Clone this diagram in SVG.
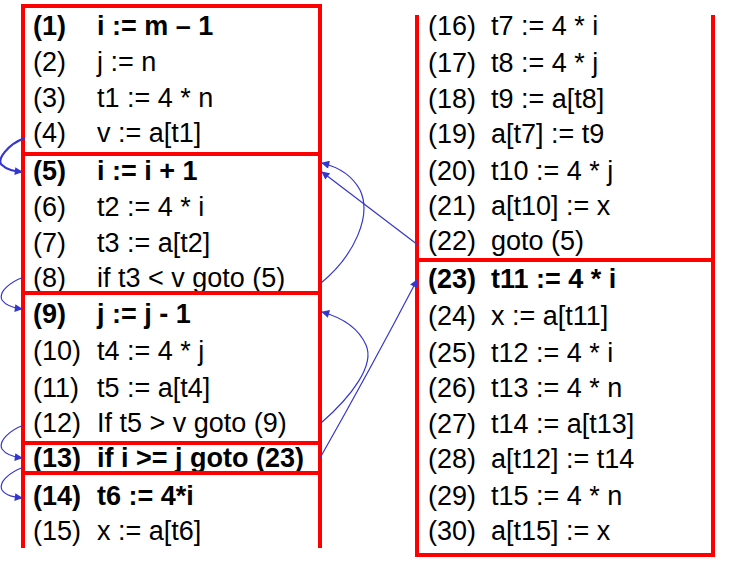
<svg xmlns="http://www.w3.org/2000/svg" width="730" height="567" viewBox="0 0 730 567">
<defs>
<style>
.b{fill:none;stroke:#ff0000;stroke-width:4}
text{font-family:"Liberation Sans",Arial,sans-serif;font-size:27px;fill:#000}
.bd{font-weight:bold}
.c{fill:none;stroke:#3535cf;stroke-width:1.2}
.c2{fill:none;stroke:#3535cf;stroke-width:2.2}
</style>
<marker id="ah" viewBox="0 0 10 10" refX="9" refY="5" markerWidth="9" markerHeight="8" markerUnits="userSpaceOnUse" orient="auto">
<path d="M0,0 L10,5 L0,10 Z" fill="#3535cf"/>
</marker>
</defs>
<rect width="730" height="567" fill="#fff"/>

<g id="b1">
<rect class="b" x="23" y="6" width="297" height="148"/>
<text class="bd" x="33" y="35">(1)</text><text class="bd" x="97" y="35">i := m – 1</text>
<text x="33" y="71">(2)</text><text x="97" y="71">j := n</text>
<text x="33" y="107">(3)</text><text x="97" y="107">t1 := 4 * n</text>
<text x="33" y="142">(4)</text><text x="97" y="142">v := a[t1]</text>
</g>
<g id="b2">
<rect class="b" x="23" y="154" width="297" height="139"/>
<text class="bd" x="33" y="180">(5)</text><text class="bd" x="97" y="180">i := i + 1</text>
<text x="33" y="216">(6)</text><text x="97" y="216">t2 := 4 * i</text>
<text x="33" y="252">(7)</text><text x="97" y="252">t3 := a[t2]</text>
<text x="33" y="287">(8)</text><text x="97" y="287">if t3 &lt; v goto (5)</text>
</g>
<g id="b3">
<rect class="b" x="23" y="293" width="297" height="150"/>
<text class="bd" x="33" y="323">(9)</text><text class="bd" x="97" y="323">j := j - 1</text>
<text x="33" y="360">(10)</text><text x="97" y="360">t4 := 4 * j</text>
<text x="33" y="397">(11)</text><text x="97" y="397">t5 := a[t4]</text>
<text x="33" y="432">(12)</text><text x="97" y="432">If t5 &gt; v goto (9)</text>
</g>
<g id="b4">
<rect class="b" x="23" y="443" width="297" height="30"/>
<text class="bd" x="33" y="467">(13)</text><text class="bd" x="97" y="467">if i &gt;= j goto (23)</text>
</g>
<g id="b5">
<path class="b" d="M23,548 V473 H320 V548"/>
<text class="bd" x="33" y="505">(14)</text><text class="bd" x="97" y="505">t6 := 4*i</text>
<text x="33" y="540">(15)</text><text x="97" y="540">x := a[t6]</text>
</g>
<g id="b6">
<path class="b" d="M417,15 V260 H713 V15"/>
<text x="428" y="35">(16)</text><text x="491" y="35">t7 := 4 * i</text>
<text x="428" y="72">(17)</text><text x="491" y="72">t8 := 4 * j</text>
<text x="428" y="108">(18)</text><text x="491" y="108">t9 := a[t8]</text>
<text x="428" y="143">(19)</text><text x="491" y="143">a[t7] := t9</text>
<text x="428" y="180">(20)</text><text x="491" y="180">t10 := 4 * j</text>
<text x="428" y="215">(21)</text><text x="491" y="215">a[t10] := x</text>
<text x="428" y="250">(22)</text><text x="491" y="250">goto (5)</text>
</g>
<g id="b7">
<rect class="b" x="417" y="260" width="296" height="295"/>
<text class="bd" x="428" y="288">(23)</text><text class="bd" x="491" y="288">t11 := 4 * i</text>
<text x="428" y="325">(24)</text><text x="491" y="325">x := a[t11]</text>
<text x="428" y="362">(25)</text><text x="491" y="362">t12 := 4 * i</text>
<text x="428" y="397">(26)</text><text x="491" y="397">t13 := 4 * n</text>
<text x="428" y="433">(27)</text><text x="491" y="433">t14 := a[t13]</text>
<text x="428" y="468">(28)</text><text x="491" y="468">a[t12] := t14</text>
<text x="428" y="505">(29)</text><text x="491" y="505">t15 := 4 * n</text>
<text x="428" y="540">(30)</text><text x="491" y="540">a[t15] := x</text>
</g>

<g id="connectors">
<path class="c2" d="M25,138 C8,144 -4,160 2,165 C7,170 14,171 22,172" marker-end="url(#ah)"/>
<path class="c" d="M24,277 C10,282 -2,292 2,300 C6,306 14,308 22,309" marker-end="url(#ah)"/>
<path class="c" d="M24,425 C10,430 -2,441 2,449 C6,455 14,457 22,458" marker-end="url(#ah)"/>
<path class="c" d="M24,467 C10,472 -2,482 2,490 C6,496 14,497 22,498" marker-end="url(#ah)"/>
<path class="c" d="M321,283 C355,255 372,215 360,190 C352,175 338,167 322,163" marker-end="url(#ah)"/>
<path class="c" d="M418,245 L322,172" marker-end="url(#ah)"/>
<path class="c" d="M321,423 C352,396 375,365 366,345 C358,327 340,317 322,312" marker-end="url(#ah)"/>
<path class="c" d="M320,458 Q370,370 417,280" marker-end="url(#ah)"/>
</g>
</svg>
